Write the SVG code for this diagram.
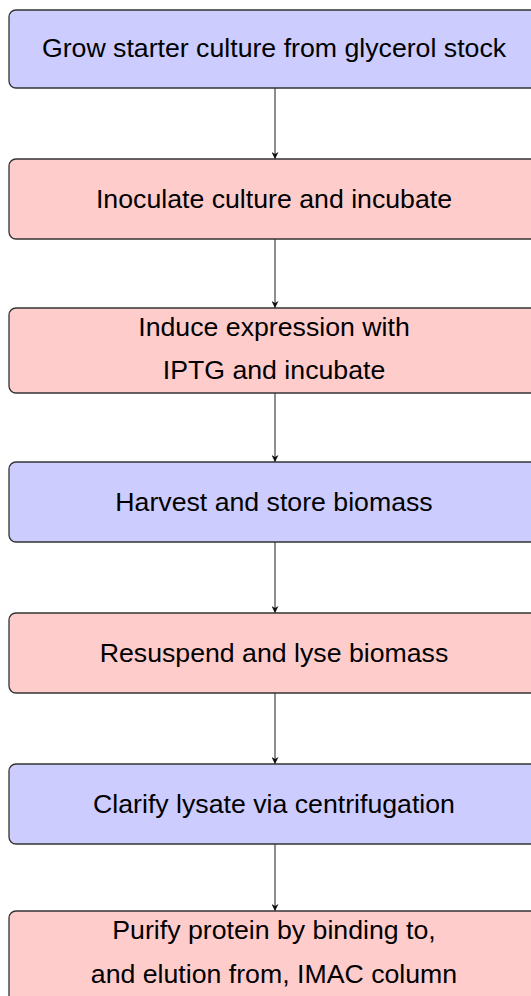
<svg xmlns="http://www.w3.org/2000/svg" width="531" height="996" viewBox="0 0 531 996">
<style>
.box{stroke:#333;stroke-width:1.3}
.blue{fill:#ccccff}
.pink{fill:#ffcccc}
text{font-family:"Liberation Sans",Arial,sans-serif;font-size:26.7px;fill:#000;text-anchor:middle}
.conn{stroke:#444;stroke-width:1.2;fill:none;marker-end:url(#ah)}
</style>
<defs>
<marker id="ah" viewBox="0 0 10 10" refX="10" refY="5" markerWidth="7" markerHeight="7" markerUnits="userSpaceOnUse" orient="auto">
<path d="M0,0 L10,5 L0,10 L3,5 Z" fill="#111"/>
</marker>
</defs>
<g id="connectors">
<line class="conn" x1="275" y1="88" x2="275" y2="159"/>
<line class="conn" x1="275" y1="239" x2="275" y2="308"/>
<line class="conn" x1="275" y1="393" x2="275" y2="462"/>
<line class="conn" x1="275" y1="542" x2="275" y2="613"/>
<line class="conn" x1="275" y1="693" x2="275" y2="764"/>
<line class="conn" x1="275" y1="844" x2="275" y2="911"/>
</g>
<g id="n1"><rect class="box blue" x="9" y="10" width="532" height="78" rx="7"/><text x="274" y="57">Grow starter culture from glycerol stock</text></g>
<g id="n2"><rect class="box pink" x="9" y="159" width="532" height="80" rx="7"/><text x="274" y="208">Inoculate culture and incubate</text></g>
<g id="n3"><rect class="box pink" x="9" y="308" width="532" height="85" rx="7"/><text x="274" y="336">Induce expression with</text><text x="274" y="379">IPTG and incubate</text></g>
<g id="n4"><rect class="box blue" x="9" y="462" width="532" height="80" rx="7"/><text x="274" y="511">Harvest and store biomass</text></g>
<g id="n5"><rect class="box pink" x="9" y="613" width="532" height="80" rx="7"/><text x="274" y="662">Resuspend and lyse biomass</text></g>
<g id="n6"><rect class="box blue" x="9" y="764" width="532" height="80" rx="7"/><text x="274" y="813">Clarify lysate via centrifugation</text></g>
<g id="n7"><rect class="box pink" x="9" y="911" width="532" height="100" rx="7"/><text x="274" y="939">Purify protein by binding to,</text><text x="274" y="983">and elution from, IMAC column</text></g>
</svg>
